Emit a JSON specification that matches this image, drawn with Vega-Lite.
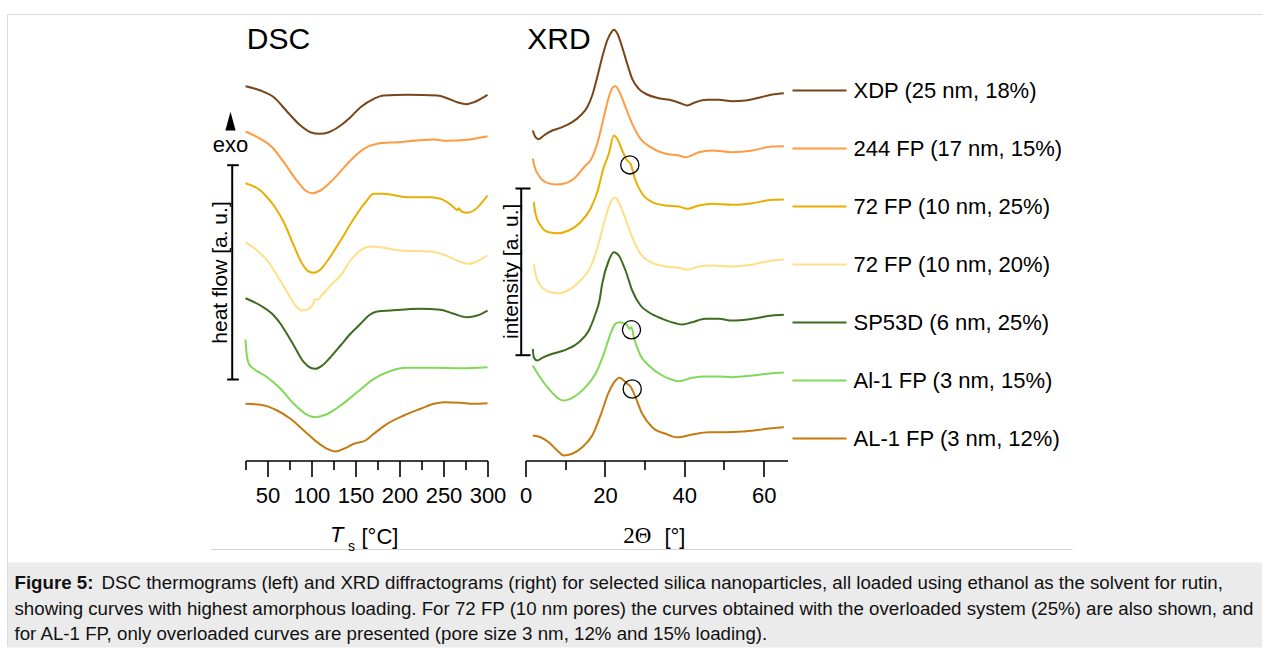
{
  "$schema": "https://vega.github.io/schema/vega-lite/v6.json",
  "background": "white",
  "padding": {"left": 6.5, "top": 13.5, "right": 0, "bottom": 0},
  "autosize": {"type": "pad"},
  "config": {
    "font": "Liberation Sans",
    "view": {"stroke": null},
    "axis": {"grid": false, "domainColor": "#000", "domainWidth": 1.6, "tickColor": "#000", "tickWidth": 1.6, "labelFont": "Liberation Sans", "labelFontSize": 22, "labelColor": "#000", "labelPadding": 9, "labelFlush": false, "labelOverlap": false},
    "text": {"font": "Liberation Sans", "color": "#000"}
  },
  "datasets": {
    "dsc": [
      {"s": "XDP (25 nm, 18%)", "T": 25, "hf": 37.43}, {"s": "XDP (25 nm, 18%)", "T": 42, "hf": 37.0}, {"s": "XDP (25 nm, 18%)", "T": 57.2, "hf": 36.33}, {"s": "XDP (25 nm, 18%)", "T": 72.4, "hf": 34.88}, {"s": "XDP (25 nm, 18%)", "T": 87.5, "hf": 33.5}, {"s": "XDP (25 nm, 18%)", "T": 98.9, "hf": 32.83}, {"s": "XDP (25 nm, 18%)", "T": 109.1, "hf": 32.67}, {"s": "XDP (25 nm, 18%)", "T": 119.7, "hf": 32.83}, {"s": "XDP (25 nm, 18%)", "T": 133, "hf": 33.5}, {"s": "XDP (25 nm, 18%)", "T": 144.3, "hf": 34.33}, {"s": "XDP (25 nm, 18%)", "T": 155.7, "hf": 35.33}, {"s": "XDP (25 nm, 18%)", "T": 170.8, "hf": 36.17}, {"s": "XDP (25 nm, 18%)", "T": 182.2, "hf": 36.5}, {"s": "XDP (25 nm, 18%)", "T": 208.8, "hf": 36.57}, {"s": "XDP (25 nm, 18%)", "T": 242.9, "hf": 36.5}, {"s": "XDP (25 nm, 18%)", "T": 254.2, "hf": 36.23}, {"s": "XDP (25 nm, 18%)", "T": 265.6, "hf": 35.83}, {"s": "XDP (25 nm, 18%)", "T": 276.1, "hf": 35.63}, {"s": "XDP (25 nm, 18%)", "T": 284.4, "hf": 35.83}, {"s": "XDP (25 nm, 18%)", "T": 300, "hf": 36.57},
      {"s": "244 FP (17 nm, 15%)", "T": 25, "hf": 32.9}, {"s": "244 FP (17 nm, 15%)", "T": 42, "hf": 32.17}, {"s": "244 FP (17 nm, 15%)", "T": 55.3, "hf": 31.33}, {"s": "244 FP (17 nm, 15%)", "T": 68.5, "hf": 29.83}, {"s": "244 FP (17 nm, 15%)", "T": 81.8, "hf": 28.17}, {"s": "244 FP (17 nm, 15%)", "T": 93.2, "hf": 27.0}, {"s": "244 FP (17 nm, 15%)", "T": 100.8, "hf": 26.73}, {"s": "244 FP (17 nm, 15%)", "T": 110.2, "hf": 27.0}, {"s": "244 FP (17 nm, 15%)", "T": 125.3, "hf": 28.17}, {"s": "244 FP (17 nm, 15%)", "T": 144.3, "hf": 30.0}, {"s": "244 FP (17 nm, 15%)", "T": 159.4, "hf": 31.17}, {"s": "244 FP (17 nm, 15%)", "T": 174.7, "hf": 31.67}, {"s": "244 FP (17 nm, 15%)", "T": 197.4, "hf": 31.83}, {"s": "244 FP (17 nm, 15%)", "T": 239, "hf": 32.1}, {"s": "244 FP (17 nm, 15%)", "T": 254.2, "hf": 31.97}, {"s": "244 FP (17 nm, 15%)", "T": 276.9, "hf": 32.07}, {"s": "244 FP (17 nm, 15%)", "T": 300, "hf": 32.43},
      {"s": "72 FP (10 nm, 25%)", "T": 25, "hf": 27.73}, {"s": "72 FP (10 nm, 25%)", "T": 42, "hf": 27.0}, {"s": "72 FP (10 nm, 25%)", "T": 47.7, "hf": 26.5}, {"s": "72 FP (10 nm, 25%)", "T": 57.2, "hf": 25.5}, {"s": "72 FP (10 nm, 25%)", "T": 68.5, "hf": 23.83}, {"s": "72 FP (10 nm, 25%)", "T": 79.9, "hf": 21.5}, {"s": "72 FP (10 nm, 25%)", "T": 89.4, "hf": 19.67}, {"s": "72 FP (10 nm, 25%)", "T": 96.9, "hf": 18.9}, {"s": "72 FP (10 nm, 25%)", "T": 102.6, "hf": 18.77}, {"s": "72 FP (10 nm, 25%)", "T": 110.2, "hf": 19.1}, {"s": "72 FP (10 nm, 25%)", "T": 119.7, "hf": 20.17}, {"s": "72 FP (10 nm, 25%)", "T": 133, "hf": 22.0}, {"s": "72 FP (10 nm, 25%)", "T": 148.1, "hf": 24.17}, {"s": "72 FP (10 nm, 25%)", "T": 161.4, "hf": 25.83}, {"s": "72 FP (10 nm, 25%)", "T": 170.8, "hf": 26.67}, {"s": "72 FP (10 nm, 25%)", "T": 182.2, "hf": 26.67}, {"s": "72 FP (10 nm, 25%)", "T": 208.8, "hf": 26.33}, {"s": "72 FP (10 nm, 25%)", "T": 235.2, "hf": 26.33}, {"s": "72 FP (10 nm, 25%)", "T": 246.6, "hf": 26.17}, {"s": "72 FP (10 nm, 25%)", "T": 261.7, "hf": 25.33}, {"s": "72 FP (10 nm, 25%)", "T": 265.6, "hf": 25.03}, {"s": "72 FP (10 nm, 25%)", "T": 267.4, "hf": 25.23}, {"s": "72 FP (10 nm, 25%)", "T": 270.5, "hf": 24.9}, {"s": "72 FP (10 nm, 25%)", "T": 277, "hf": 24.77}, {"s": "72 FP (10 nm, 25%)", "T": 284.5, "hf": 25.0}, {"s": "72 FP (10 nm, 25%)", "T": 300, "hf": 26.5},
      {"s": "72 FP (10 nm, 20%)", "T": 25, "hf": 21.83}, {"s": "72 FP (10 nm, 20%)", "T": 38.3, "hf": 21.0}, {"s": "72 FP (10 nm, 20%)", "T": 49.7, "hf": 20.0}, {"s": "72 FP (10 nm, 20%)", "T": 61, "hf": 18.5}, {"s": "72 FP (10 nm, 20%)", "T": 72.4, "hf": 16.83}, {"s": "72 FP (10 nm, 20%)", "T": 81.8, "hf": 15.5}, {"s": "72 FP (10 nm, 20%)", "T": 89.4, "hf": 15.0}, {"s": "72 FP (10 nm, 20%)", "T": 96.9, "hf": 15.17}, {"s": "72 FP (10 nm, 20%)", "T": 101.9, "hf": 15.67}, {"s": "72 FP (10 nm, 20%)", "T": 103.4, "hf": 16.1}, {"s": "72 FP (10 nm, 20%)", "T": 107.2, "hf": 16.1}, {"s": "72 FP (10 nm, 20%)", "T": 112.2, "hf": 16.57}, {"s": "72 FP (10 nm, 20%)", "T": 123.5, "hf": 17.67}, {"s": "72 FP (10 nm, 20%)", "T": 133, "hf": 18.5}, {"s": "72 FP (10 nm, 20%)", "T": 144.3, "hf": 20.0}, {"s": "72 FP (10 nm, 20%)", "T": 155.7, "hf": 21.0}, {"s": "72 FP (10 nm, 20%)", "T": 167, "hf": 21.4}, {"s": "72 FP (10 nm, 20%)", "T": 178.4, "hf": 21.33}, {"s": "72 FP (10 nm, 20%)", "T": 201.1, "hf": 21.0}, {"s": "72 FP (10 nm, 20%)", "T": 235.2, "hf": 20.9}, {"s": "72 FP (10 nm, 20%)", "T": 250.3, "hf": 20.57}, {"s": "72 FP (10 nm, 20%)", "T": 265.6, "hf": 20.0}, {"s": "72 FP (10 nm, 20%)", "T": 278.8, "hf": 19.67}, {"s": "72 FP (10 nm, 20%)", "T": 290.2, "hf": 20.0}, {"s": "72 FP (10 nm, 20%)", "T": 300, "hf": 20.5},
      {"s": "SP53D (6 nm, 25%)", "T": 25, "hf": 16.23}, {"s": "SP53D (6 nm, 25%)", "T": 42, "hf": 15.5}, {"s": "SP53D (6 nm, 25%)", "T": 57.2, "hf": 14.5}, {"s": "SP53D (6 nm, 25%)", "T": 64.8, "hf": 13.67}, {"s": "SP53D (6 nm, 25%)", "T": 68.5, "hf": 13.17}, {"s": "SP53D (6 nm, 25%)", "T": 79.9, "hf": 11.5}, {"s": "SP53D (6 nm, 25%)", "T": 91.3, "hf": 9.83}, {"s": "SP53D (6 nm, 25%)", "T": 98.9, "hf": 9.27}, {"s": "SP53D (6 nm, 25%)", "T": 104.5, "hf": 9.17}, {"s": "SP53D (6 nm, 25%)", "T": 112.2, "hf": 9.5}, {"s": "SP53D (6 nm, 25%)", "T": 121.6, "hf": 10.33}, {"s": "SP53D (6 nm, 25%)", "T": 133, "hf": 11.5}, {"s": "SP53D (6 nm, 25%)", "T": 144.3, "hf": 12.67}, {"s": "SP53D (6 nm, 25%)", "T": 155.7, "hf": 13.67}, {"s": "SP53D (6 nm, 25%)", "T": 165.1, "hf": 14.5}, {"s": "SP53D (6 nm, 25%)", "T": 174.7, "hf": 14.9}, {"s": "SP53D (6 nm, 25%)", "T": 189.8, "hf": 15.0}, {"s": "SP53D (6 nm, 25%)", "T": 223.9, "hf": 15.17}, {"s": "SP53D (6 nm, 25%)", "T": 246.6, "hf": 15.07}, {"s": "SP53D (6 nm, 25%)", "T": 261.7, "hf": 14.67}, {"s": "SP53D (6 nm, 25%)", "T": 276.9, "hf": 14.33}, {"s": "SP53D (6 nm, 25%)", "T": 288.3, "hf": 14.5}, {"s": "SP53D (6 nm, 25%)", "T": 300, "hf": 15.0},
      {"s": "Al-1 FP (3 nm, 15%)", "T": 25, "hf": 12.1}, {"s": "Al-1 FP (3 nm, 15%)", "T": 26.1, "hf": 10.83}, {"s": "Al-1 FP (3 nm, 15%)", "T": 28.8, "hf": 9.67}, {"s": "Al-1 FP (3 nm, 15%)", "T": 34.4, "hf": 9.17}, {"s": "Al-1 FP (3 nm, 15%)", "T": 49.7, "hf": 8.33}, {"s": "Al-1 FP (3 nm, 15%)", "T": 64.8, "hf": 7.17}, {"s": "Al-1 FP (3 nm, 15%)", "T": 79.9, "hf": 5.67}, {"s": "Al-1 FP (3 nm, 15%)", "T": 93.2, "hf": 4.67}, {"s": "Al-1 FP (3 nm, 15%)", "T": 104.5, "hf": 4.33}, {"s": "Al-1 FP (3 nm, 15%)", "T": 115.9, "hf": 4.57}, {"s": "Al-1 FP (3 nm, 15%)", "T": 133, "hf": 5.5}, {"s": "Al-1 FP (3 nm, 15%)", "T": 151.9, "hf": 6.83}, {"s": "Al-1 FP (3 nm, 15%)", "T": 170.8, "hf": 8.17}, {"s": "Al-1 FP (3 nm, 15%)", "T": 186, "hf": 8.83}, {"s": "Al-1 FP (3 nm, 15%)", "T": 208.8, "hf": 9.27}, {"s": "Al-1 FP (3 nm, 15%)", "T": 239, "hf": 9.27}, {"s": "Al-1 FP (3 nm, 15%)", "T": 269.3, "hf": 9.23}, {"s": "Al-1 FP (3 nm, 15%)", "T": 300, "hf": 9.33},
      {"s": "AL-1 FP (3 nm, 12%)", "T": 25, "hf": 5.67}, {"s": "AL-1 FP (3 nm, 12%)", "T": 42, "hf": 5.57}, {"s": "AL-1 FP (3 nm, 12%)", "T": 61, "hf": 5.0}, {"s": "AL-1 FP (3 nm, 12%)", "T": 76.1, "hf": 4.17}, {"s": "AL-1 FP (3 nm, 12%)", "T": 91.3, "hf": 3.0}, {"s": "AL-1 FP (3 nm, 12%)", "T": 106.5, "hf": 1.83}, {"s": "AL-1 FP (3 nm, 12%)", "T": 117.8, "hf": 1.17}, {"s": "AL-1 FP (3 nm, 12%)", "T": 127.3, "hf": 0.9}, {"s": "AL-1 FP (3 nm, 12%)", "T": 136.7, "hf": 1.17}, {"s": "AL-1 FP (3 nm, 12%)", "T": 148.1, "hf": 1.67}, {"s": "AL-1 FP (3 nm, 12%)", "T": 161.4, "hf": 2.0}, {"s": "AL-1 FP (3 nm, 12%)", "T": 170.8, "hf": 2.67}, {"s": "AL-1 FP (3 nm, 12%)", "T": 186, "hf": 3.67}, {"s": "AL-1 FP (3 nm, 12%)", "T": 204.9, "hf": 4.5}, {"s": "AL-1 FP (3 nm, 12%)", "T": 223.9, "hf": 5.17}, {"s": "AL-1 FP (3 nm, 12%)", "T": 239, "hf": 5.67}, {"s": "AL-1 FP (3 nm, 12%)", "T": 250.3, "hf": 5.83}, {"s": "AL-1 FP (3 nm, 12%)", "T": 269.3, "hf": 5.77}, {"s": "AL-1 FP (3 nm, 12%)", "T": 284.4, "hf": 5.67}, {"s": "AL-1 FP (3 nm, 12%)", "T": 300, "hf": 5.73}
    ],
    "xrd": [
      {"s": "XDP (25 nm, 18%)", "tt": 1.84, "I": 33.0}, {"s": "XDP (25 nm, 18%)", "tt": 2.52, "I": 32.33}, {"s": "XDP (25 nm, 18%)", "tt": 3.35, "I": 32.13}, {"s": "XDP (25 nm, 18%)", "tt": 4.61, "I": 32.5}, {"s": "XDP (25 nm, 18%)", "tt": 6.73, "I": 33.0}, {"s": "XDP (25 nm, 18%)", "tt": 9.25, "I": 33.33}, {"s": "XDP (25 nm, 18%)", "tt": 11.76, "I": 33.83}, {"s": "XDP (25 nm, 18%)", "tt": 13.85, "I": 34.5}, {"s": "XDP (25 nm, 18%)", "tt": 15.54, "I": 35.33}, {"s": "XDP (25 nm, 18%)", "tt": 16.8, "I": 36.5}, {"s": "XDP (25 nm, 18%)", "tt": 18.06, "I": 38.33}, {"s": "XDP (25 nm, 18%)", "tt": 19.32, "I": 40.33}, {"s": "XDP (25 nm, 18%)", "tt": 20.58, "I": 42.0}, {"s": "XDP (25 nm, 18%)", "tt": 21.66, "I": 42.83}, {"s": "XDP (25 nm, 18%)", "tt": 22.24, "I": 43.07}, {"s": "XDP (25 nm, 18%)", "tt": 23.1, "I": 42.73}, {"s": "XDP (25 nm, 18%)", "tt": 24.36, "I": 41.33}, {"s": "XDP (25 nm, 18%)", "tt": 25.62, "I": 39.67}, {"s": "XDP (25 nm, 18%)", "tt": 26.88, "I": 38.17}, {"s": "XDP (25 nm, 18%)", "tt": 28.54, "I": 37.17}, {"s": "XDP (25 nm, 18%)", "tt": 30.66, "I": 36.6}, {"s": "XDP (25 nm, 18%)", "tt": 33.58, "I": 36.23}, {"s": "XDP (25 nm, 18%)", "tt": 36.95, "I": 36.0}, {"s": "XDP (25 nm, 18%)", "tt": 39.05, "I": 35.73}, {"s": "XDP (25 nm, 18%)", "tt": 40.73, "I": 35.5}, {"s": "XDP (25 nm, 18%)", "tt": 42.82, "I": 35.83}, {"s": "XDP (25 nm, 18%)", "tt": 45.77, "I": 36.07}, {"s": "XDP (25 nm, 18%)", "tt": 48.69, "I": 36.07}, {"s": "XDP (25 nm, 18%)", "tt": 52.07, "I": 35.93}, {"s": "XDP (25 nm, 18%)", "tt": 55.42, "I": 36.0}, {"s": "XDP (25 nm, 18%)", "tt": 58.77, "I": 36.27}, {"s": "XDP (25 nm, 18%)", "tt": 62.15, "I": 36.6}, {"s": "XDP (25 nm, 18%)", "tt": 65.07, "I": 36.73},
      {"s": "244 FP (17 nm, 15%)", "tt": 1.84, "I": 30.2}, {"s": "244 FP (17 nm, 15%)", "tt": 2.27, "I": 29.4}, {"s": "244 FP (17 nm, 15%)", "tt": 3.35, "I": 28.5}, {"s": "244 FP (17 nm, 15%)", "tt": 5.04, "I": 27.83}, {"s": "244 FP (17 nm, 15%)", "tt": 7.56, "I": 27.6}, {"s": "244 FP (17 nm, 15%)", "tt": 10.08, "I": 27.73}, {"s": "244 FP (17 nm, 15%)", "tt": 12.6, "I": 28.33}, {"s": "244 FP (17 nm, 15%)", "tt": 15.11, "I": 29.5}, {"s": "244 FP (17 nm, 15%)", "tt": 16.37, "I": 30.0}, {"s": "244 FP (17 nm, 15%)", "tt": 18.06, "I": 31.67}, {"s": "244 FP (17 nm, 15%)", "tt": 19.72, "I": 34.33}, {"s": "244 FP (17 nm, 15%)", "tt": 20.98, "I": 36.33}, {"s": "244 FP (17 nm, 15%)", "tt": 21.99, "I": 37.33}, {"s": "244 FP (17 nm, 15%)", "tt": 22.67, "I": 37.43}, {"s": "244 FP (17 nm, 15%)", "tt": 23.5, "I": 37.0}, {"s": "244 FP (17 nm, 15%)", "tt": 25.19, "I": 35.33}, {"s": "244 FP (17 nm, 15%)", "tt": 26.88, "I": 33.67}, {"s": "244 FP (17 nm, 15%)", "tt": 28.97, "I": 32.17}, {"s": "244 FP (17 nm, 15%)", "tt": 31.49, "I": 31.33}, {"s": "244 FP (17 nm, 15%)", "tt": 35.27, "I": 30.67}, {"s": "244 FP (17 nm, 15%)", "tt": 38.62, "I": 30.5}, {"s": "244 FP (17 nm, 15%)", "tt": 40.31, "I": 30.33}, {"s": "244 FP (17 nm, 15%)", "tt": 43.66, "I": 30.83}, {"s": "244 FP (17 nm, 15%)", "tt": 47.03, "I": 31.0}, {"s": "244 FP (17 nm, 15%)", "tt": 52.07, "I": 30.83}, {"s": "244 FP (17 nm, 15%)", "tt": 57.11, "I": 31.0}, {"s": "244 FP (17 nm, 15%)", "tt": 62.15, "I": 31.4}, {"s": "244 FP (17 nm, 15%)", "tt": 65.07, "I": 31.43},
      {"s": "72 FP (10 nm, 25%)", "tt": 2.09, "I": 25.83}, {"s": "72 FP (10 nm, 25%)", "tt": 2.52, "I": 24.67}, {"s": "72 FP (10 nm, 25%)", "tt": 3.78, "I": 23.5}, {"s": "72 FP (10 nm, 25%)", "tt": 5.87, "I": 22.83}, {"s": "72 FP (10 nm, 25%)", "tt": 7.99, "I": 22.73}, {"s": "72 FP (10 nm, 25%)", "tt": 10.91, "I": 23.0}, {"s": "72 FP (10 nm, 25%)", "tt": 13.85, "I": 23.83}, {"s": "72 FP (10 nm, 25%)", "tt": 16.37, "I": 25.17}, {"s": "72 FP (10 nm, 25%)", "tt": 18.06, "I": 26.83}, {"s": "72 FP (10 nm, 25%)", "tt": 19.72, "I": 29.33}, {"s": "72 FP (10 nm, 25%)", "tt": 20.98, "I": 30.67}, {"s": "72 FP (10 nm, 25%)", "tt": 22.24, "I": 32.5}, {"s": "72 FP (10 nm, 25%)", "tt": 23.1, "I": 32.17}, {"s": "72 FP (10 nm, 25%)", "tt": 24.36, "I": 31.0}, {"s": "72 FP (10 nm, 25%)", "tt": 25.62, "I": 30.0}, {"s": "72 FP (10 nm, 25%)", "tt": 26.45, "I": 29.67}, {"s": "72 FP (10 nm, 25%)", "tt": 27.71, "I": 28.0}, {"s": "72 FP (10 nm, 25%)", "tt": 29.4, "I": 26.67}, {"s": "72 FP (10 nm, 25%)", "tt": 31.92, "I": 25.83}, {"s": "72 FP (10 nm, 25%)", "tt": 35.27, "I": 25.5}, {"s": "72 FP (10 nm, 25%)", "tt": 38.62, "I": 25.4}, {"s": "72 FP (10 nm, 25%)", "tt": 40.73, "I": 25.17}, {"s": "72 FP (10 nm, 25%)", "tt": 43.66, "I": 25.5}, {"s": "72 FP (10 nm, 25%)", "tt": 47.03, "I": 25.67}, {"s": "72 FP (10 nm, 25%)", "tt": 52.07, "I": 25.57}, {"s": "72 FP (10 nm, 25%)", "tt": 57.11, "I": 25.73}, {"s": "72 FP (10 nm, 25%)", "tt": 62.15, "I": 26.07}, {"s": "72 FP (10 nm, 25%)", "tt": 65.07, "I": 26.1},
      {"s": "72 FP (10 nm, 20%)", "tt": 2.09, "I": 19.67}, {"s": "72 FP (10 nm, 20%)", "tt": 2.52, "I": 18.67}, {"s": "72 FP (10 nm, 20%)", "tt": 3.78, "I": 17.5}, {"s": "72 FP (10 nm, 20%)", "tt": 6.3, "I": 16.83}, {"s": "72 FP (10 nm, 20%)", "tt": 8.39, "I": 16.73}, {"s": "72 FP (10 nm, 20%)", "tt": 11.34, "I": 17.17}, {"s": "72 FP (10 nm, 20%)", "tt": 13.85, "I": 18.0}, {"s": "72 FP (10 nm, 20%)", "tt": 16.37, "I": 19.33}, {"s": "72 FP (10 nm, 20%)", "tt": 18.06, "I": 21.17}, {"s": "72 FP (10 nm, 20%)", "tt": 19.72, "I": 23.67}, {"s": "72 FP (10 nm, 20%)", "tt": 20.98, "I": 25.33}, {"s": "72 FP (10 nm, 20%)", "tt": 21.99, "I": 26.17}, {"s": "72 FP (10 nm, 20%)", "tt": 22.67, "I": 26.27}, {"s": "72 FP (10 nm, 20%)", "tt": 23.5, "I": 25.83}, {"s": "72 FP (10 nm, 20%)", "tt": 25.19, "I": 24.17}, {"s": "72 FP (10 nm, 20%)", "tt": 26.88, "I": 22.33}, {"s": "72 FP (10 nm, 20%)", "tt": 28.97, "I": 20.67}, {"s": "72 FP (10 nm, 20%)", "tt": 31.49, "I": 19.83}, {"s": "72 FP (10 nm, 20%)", "tt": 35.27, "I": 19.4}, {"s": "72 FP (10 nm, 20%)", "tt": 38.62, "I": 19.27}, {"s": "72 FP (10 nm, 20%)", "tt": 40.73, "I": 19.07}, {"s": "72 FP (10 nm, 20%)", "tt": 43.66, "I": 19.4}, {"s": "72 FP (10 nm, 20%)", "tt": 47.03, "I": 19.5}, {"s": "72 FP (10 nm, 20%)", "tt": 52.07, "I": 19.4}, {"s": "72 FP (10 nm, 20%)", "tt": 57.11, "I": 19.6}, {"s": "72 FP (10 nm, 20%)", "tt": 62.15, "I": 20.0}, {"s": "72 FP (10 nm, 20%)", "tt": 65.07, "I": 20.1},
      {"s": "SP53D (6 nm, 25%)", "tt": 1.84, "I": 11.17}, {"s": "SP53D (6 nm, 25%)", "tt": 2.09, "I": 10.33}, {"s": "SP53D (6 nm, 25%)", "tt": 2.95, "I": 10.0}, {"s": "SP53D (6 nm, 25%)", "tt": 4.21, "I": 10.27}, {"s": "SP53D (6 nm, 25%)", "tt": 6.73, "I": 10.67}, {"s": "SP53D (6 nm, 25%)", "tt": 10.08, "I": 11.07}, {"s": "SP53D (6 nm, 25%)", "tt": 13.43, "I": 11.83}, {"s": "SP53D (6 nm, 25%)", "tt": 15.95, "I": 13.0}, {"s": "SP53D (6 nm, 25%)", "tt": 17.63, "I": 14.67}, {"s": "SP53D (6 nm, 25%)", "tt": 18.64, "I": 16.0}, {"s": "SP53D (6 nm, 25%)", "tt": 19.32, "I": 17.67}, {"s": "SP53D (6 nm, 25%)", "tt": 20.98, "I": 20.0}, {"s": "SP53D (6 nm, 25%)", "tt": 22.24, "I": 20.83}, {"s": "SP53D (6 nm, 25%)", "tt": 23.5, "I": 20.5}, {"s": "SP53D (6 nm, 25%)", "tt": 25.19, "I": 19.0}, {"s": "SP53D (6 nm, 25%)", "tt": 26.88, "I": 17.0}, {"s": "SP53D (6 nm, 25%)", "tt": 28.97, "I": 15.5}, {"s": "SP53D (6 nm, 25%)", "tt": 31.06, "I": 14.83}, {"s": "SP53D (6 nm, 25%)", "tt": 34.44, "I": 14.17}, {"s": "SP53D (6 nm, 25%)", "tt": 37.79, "I": 13.73}, {"s": "SP53D (6 nm, 25%)", "tt": 39.47, "I": 13.6}, {"s": "SP53D (6 nm, 25%)", "tt": 41.99, "I": 13.83}, {"s": "SP53D (6 nm, 25%)", "tt": 45.34, "I": 14.17}, {"s": "SP53D (6 nm, 25%)", "tt": 48.69, "I": 14.17}, {"s": "SP53D (6 nm, 25%)", "tt": 52.07, "I": 14.0}, {"s": "SP53D (6 nm, 25%)", "tt": 57.11, "I": 14.17}, {"s": "SP53D (6 nm, 25%)", "tt": 62.15, "I": 14.5}, {"s": "SP53D (6 nm, 25%)", "tt": 65.07, "I": 14.57},
      {"s": "Al-1 FP (3 nm, 15%)", "tt": 1.84, "I": 9.5}, {"s": "Al-1 FP (3 nm, 15%)", "tt": 3.35, "I": 8.5}, {"s": "Al-1 FP (3 nm, 15%)", "tt": 5.87, "I": 7.17}, {"s": "Al-1 FP (3 nm, 15%)", "tt": 8.39, "I": 6.17}, {"s": "Al-1 FP (3 nm, 15%)", "tt": 9.65, "I": 6.0}, {"s": "Al-1 FP (3 nm, 15%)", "tt": 11.76, "I": 6.27}, {"s": "Al-1 FP (3 nm, 15%)", "tt": 15.11, "I": 7.33}, {"s": "Al-1 FP (3 nm, 15%)", "tt": 17.63, "I": 8.67}, {"s": "Al-1 FP (3 nm, 15%)", "tt": 19.72, "I": 10.67}, {"s": "Al-1 FP (3 nm, 15%)", "tt": 21.41, "I": 12.67}, {"s": "Al-1 FP (3 nm, 15%)", "tt": 22.5, "I": 13.6}, {"s": "Al-1 FP (3 nm, 15%)", "tt": 23.5, "I": 13.83}, {"s": "Al-1 FP (3 nm, 15%)", "tt": 24.76, "I": 13.73}, {"s": "Al-1 FP (3 nm, 15%)", "tt": 25.62, "I": 13.5}, {"s": "Al-1 FP (3 nm, 15%)", "tt": 26.2, "I": 13.17}, {"s": "Al-1 FP (3 nm, 15%)", "tt": 26.7, "I": 13.33}, {"s": "Al-1 FP (3 nm, 15%)", "tt": 27.28, "I": 12.33}, {"s": "Al-1 FP (3 nm, 15%)", "tt": 28.97, "I": 10.5}, {"s": "Al-1 FP (3 nm, 15%)", "tt": 31.06, "I": 9.5}, {"s": "Al-1 FP (3 nm, 15%)", "tt": 34.44, "I": 8.5}, {"s": "Al-1 FP (3 nm, 15%)", "tt": 36.95, "I": 8.07}, {"s": "Al-1 FP (3 nm, 15%)", "tt": 38.62, "I": 7.93}, {"s": "Al-1 FP (3 nm, 15%)", "tt": 41.99, "I": 8.27}, {"s": "Al-1 FP (3 nm, 15%)", "tt": 45.34, "I": 8.4}, {"s": "Al-1 FP (3 nm, 15%)", "tt": 48.69, "I": 8.4}, {"s": "Al-1 FP (3 nm, 15%)", "tt": 52.07, "I": 8.33}, {"s": "Al-1 FP (3 nm, 15%)", "tt": 57.11, "I": 8.5}, {"s": "Al-1 FP (3 nm, 15%)", "tt": 62.15, "I": 8.73}, {"s": "Al-1 FP (3 nm, 15%)", "tt": 65.07, "I": 8.8},
      {"s": "AL-1 FP (3 nm, 12%)", "tt": 1.84, "I": 2.5}, {"s": "AL-1 FP (3 nm, 12%)", "tt": 3.78, "I": 2.33}, {"s": "AL-1 FP (3 nm, 12%)", "tt": 5.87, "I": 1.83}, {"s": "AL-1 FP (3 nm, 12%)", "tt": 7.99, "I": 1.0}, {"s": "AL-1 FP (3 nm, 12%)", "tt": 9.65, "I": 0.5}, {"s": "AL-1 FP (3 nm, 12%)", "tt": 11.76, "I": 0.67}, {"s": "AL-1 FP (3 nm, 12%)", "tt": 14.28, "I": 1.33}, {"s": "AL-1 FP (3 nm, 12%)", "tt": 16.8, "I": 2.5}, {"s": "AL-1 FP (3 nm, 12%)", "tt": 18.89, "I": 4.5}, {"s": "AL-1 FP (3 nm, 12%)", "tt": 20.98, "I": 6.83}, {"s": "AL-1 FP (3 nm, 12%)", "tt": 22.67, "I": 8.0}, {"s": "AL-1 FP (3 nm, 12%)", "tt": 23.68, "I": 8.27}, {"s": "AL-1 FP (3 nm, 12%)", "tt": 24.76, "I": 8.0}, {"s": "AL-1 FP (3 nm, 12%)", "tt": 25.62, "I": 7.67}, {"s": "AL-1 FP (3 nm, 12%)", "tt": 26.45, "I": 7.4}, {"s": "AL-1 FP (3 nm, 12%)", "tt": 27.71, "I": 6.33}, {"s": "AL-1 FP (3 nm, 12%)", "tt": 29.4, "I": 4.67}, {"s": "AL-1 FP (3 nm, 12%)", "tt": 31.92, "I": 3.33}, {"s": "AL-1 FP (3 nm, 12%)", "tt": 35.27, "I": 2.67}, {"s": "AL-1 FP (3 nm, 12%)", "tt": 38.21, "I": 2.33}, {"s": "AL-1 FP (3 nm, 12%)", "tt": 41.99, "I": 2.6}, {"s": "AL-1 FP (3 nm, 12%)", "tt": 46.17, "I": 2.83}, {"s": "AL-1 FP (3 nm, 12%)", "tt": 50.38, "I": 2.83}, {"s": "AL-1 FP (3 nm, 12%)", "tt": 54.59, "I": 2.9}, {"s": "AL-1 FP (3 nm, 12%)", "tt": 58.77, "I": 3.07}, {"s": "AL-1 FP (3 nm, 12%)", "tt": 62.15, "I": 3.23}, {"s": "AL-1 FP (3 nm, 12%)", "tt": 65.07, "I": 3.33}
    ],
    "circles": [
      {"tt": 26.28, "I": 29.56}, {"tt": 26.7, "I": 13.07}, {"tt": 26.88, "I": 7.15}
    ]
  },
  "spacing": 38,
  "bounds": "flush",
  "hconcat": [
    {
      "width": 242,
      "height": 400,
      "resolve": {"axis": {"x": "independent"}},
      "layer": [
        {
          "data": {"values": [{}]},
          "mark": {"type": "rect", "color": "#ebebeb"},
          "encoding": {
            "x": {"datum": -245.45, "type": "quantitative", "scale": {"domain": [25, 300], "nice": false, "zero": false}, "axis": null},
            "x2": {"datum": 1180.4},
            "y": {"datum": -10.2, "type": "quantitative", "scale": {"domain": [0, 40], "nice": false, "zero": false}, "axis": null},
            "y2": {"datum": -18.7}
          }
        },
        {
          "data": {"values": [{}]},
          "mark": {"type": "rule", "color": "#dcdcdc", "strokeWidth": 1},
          "encoding": {
            "x": {"datum": -245.45, "type": "quantitative", "scale": {"domain": [25, 300], "nice": false, "zero": false}, "axis": null},
            "x2": {"datum": 1180},
            "y": {"datum": 44.6, "type": "quantitative", "scale": {"domain": [0, 40], "nice": false, "zero": false}, "axis": null}
          }
        },
        {
          "data": {"values": [{}]},
          "mark": {"type": "rule", "color": "#dcdcdc", "strokeWidth": 1},
          "encoding": {
            "x": {"datum": -245.45, "type": "quantitative", "scale": {"domain": [25, 300], "nice": false, "zero": false}, "axis": null},
            "y": {"datum": 44.6, "type": "quantitative", "scale": {"domain": [0, 40], "nice": false, "zero": false}, "axis": null},
            "y2": {"datum": -18.6}
          }
        },
        {
          "data": {"values": [{}]},
          "mark": {"type": "rule", "color": "#d4d4d4", "strokeWidth": 1},
          "encoding": {
            "x": {"datum": -14.8, "type": "quantitative", "scale": {"domain": [25, 300], "nice": false, "zero": false}, "axis": null},
            "x2": {"datum": 964.8},
            "y": {"datum": -8.9, "type": "quantitative", "scale": {"domain": [0, 40], "nice": false, "zero": false}, "axis": null}
          }
        },
        {
          "data": {"name": "dsc"},
          "mark": {"type": "line", "strokeWidth": 2, "interpolate": "monotone"},
          "encoding": {
            "x": {
              "field": "T", "type": "quantitative",
              "scale": {"domain": [25, 300], "nice": false, "zero": false},
              "axis": {"orient": "bottom", "title": null, "values": [50, 100, 150, 200, 250, 300], "tickSize": 16}
            },
            "y": {"field": "hf", "type": "quantitative", "scale": {"domain": [0, 40], "nice": false, "zero": false}, "axis": null},
            "color": {
              "field": "s", "type": "nominal",
              "scale": {
                "domain": ["XDP (25 nm, 18%)", "244 FP (17 nm, 15%)", "72 FP (10 nm, 25%)", "72 FP (10 nm, 20%)", "SP53D (6 nm, 25%)", "Al-1 FP (3 nm, 15%)", "AL-1 FP (3 nm, 12%)"],
                "range": ["#774517", "#ff9b42", "#e8ae00", "#ffdf85", "#3e6b1f", "#82d858", "#c47b12"]
              },
              "legend": {"orient": "none", "legendX": 546, "legendY": 2, "direction": "vertical", "title": null, "symbolType": "stroke", "symbolSize": 2916, "symbolStrokeWidth": 2, "labelFont": "Liberation Sans", "labelFontSize": 22, "labelColor": "#000", "labelLimit": 400, "rowPadding": 19, "labelOffset": 6, "padding": 0}
            }
          }
        },
        {
          "data": {"values": [{}]},
          "mark": {"type": "rule", "color": "#000", "strokeWidth": 2},
          "encoding": {
            "x": {"datum": 9.9, "type": "quantitative", "scale": {"domain": [25, 300], "nice": false, "zero": false},
                  "axis": {"orient": "bottom", "title": null, "values": [25, 75, 125, 175, 225, 275], "tickSize": 9, "labels": false, "domain": false}},
            "y": {"datum": 29.53, "type": "quantitative", "scale": {"domain": [0, 40], "nice": false, "zero": false}, "axis": null},
            "y2": {"datum": 8.1}
          }
        },
        {
          "data": {"values": [{}]},
          "mark": {"type": "rule", "color": "#000", "strokeWidth": 2},
          "encoding": {
            "x": {"datum": 4.2, "type": "quantitative", "scale": {"domain": [25, 300], "nice": false, "zero": false}, "axis": null},
            "x2": {"datum": 17.4},
            "y": {"datum": 29.53, "type": "quantitative", "scale": {"domain": [0, 40], "nice": false, "zero": false}, "axis": null}
          }
        },
        {
          "data": {"values": [{}]},
          "mark": {"type": "rule", "color": "#000", "strokeWidth": 2},
          "encoding": {
            "x": {"datum": 4.2, "type": "quantitative", "scale": {"domain": [25, 300], "nice": false, "zero": false}, "axis": null},
            "x2": {"datum": 17.4},
            "y": {"datum": 8.1, "type": "quantitative", "scale": {"domain": [0, 40], "nice": false, "zero": false}, "axis": null}
          }
        },
        {
          "data": {"values": [{}]},
          "mark": {"type": "text", "text": "heat flow [a. u.]", "angle": 270, "fontSize": 21, "align": "center", "baseline": "middle", "font": "Liberation Sans", "color": "#000"},
          "encoding": {
            "x": {"datum": -2.6, "type": "quantitative", "scale": {"domain": [25, 300], "nice": false, "zero": false}, "axis": null},
            "y": {"datum": 18.8, "type": "quantitative", "scale": {"domain": [0, 40], "nice": false, "zero": false}, "axis": null}
          }
        },
        {
          "data": {"values": [{}]},
          "mark": {"type": "point", "shape": "M-0.55,1L0,-1L0.55,1Z", "size": 346, "filled": true, "color": "#000", "opacity": 1},
          "encoding": {
            "x": {"datum": 7.95, "type": "quantitative", "scale": {"domain": [25, 300], "nice": false, "zero": false}, "axis": null},
            "y": {"datum": 33.94, "type": "quantitative", "scale": {"domain": [0, 40], "nice": false, "zero": false}, "axis": null}
          }
        },
        {
          "data": {"values": [{}]},
          "mark": {"type": "text", "text": "exo", "fontSize": 22, "align": "center", "baseline": "middle", "font": "Liberation Sans", "color": "#000"},
          "encoding": {
            "x": {"datum": 7.95, "type": "quantitative", "scale": {"domain": [25, 300], "nice": false, "zero": false}, "axis": null},
            "y": {"datum": 31.6, "type": "quantitative", "scale": {"domain": [0, 40], "nice": false, "zero": false}, "axis": null}
          }
        },
        {
          "data": {"values": [{}]},
          "mark": {"type": "text", "text": "DSC", "fontSize": 30, "align": "left", "baseline": "alphabetic", "font": "Liberation Sans", "color": "#000"},
          "encoding": {
            "x": {"datum": 26.5, "type": "quantitative", "scale": {"domain": [25, 300], "nice": false, "zero": false}, "axis": null},
            "y": {"datum": 41.13, "type": "quantitative", "scale": {"domain": [0, 40], "nice": false, "zero": false}, "axis": null}
          }
        },
        {
          "data": {"values": [{}]},
          "mark": {"type": "text", "text": "T", "fontSize": 22, "fontStyle": "italic", "align": "left", "baseline": "middle", "font": "Liberation Sans", "color": "#000"},
          "encoding": {
            "x": {"datum": 121, "type": "quantitative", "scale": {"domain": [25, 300], "nice": false, "zero": false}, "axis": null},
            "y": {"datum": -7.43, "type": "quantitative", "scale": {"domain": [0, 40], "nice": false, "zero": false}, "axis": null}
          }
        },
        {
          "data": {"values": [{}]},
          "mark": {"type": "text", "text": "s", "fontSize": 14, "align": "left", "baseline": "middle", "font": "Liberation Sans", "color": "#000"},
          "encoding": {
            "x": {"datum": 141.5, "type": "quantitative", "scale": {"domain": [25, 300], "nice": false, "zero": false}, "axis": null},
            "y": {"datum": -8.67, "type": "quantitative", "scale": {"domain": [0, 40], "nice": false, "zero": false}, "axis": null}
          }
        },
        {
          "data": {"values": [{}]},
          "mark": {"type": "text", "text": "[°C]", "fontSize": 22, "align": "left", "baseline": "middle", "font": "Liberation Sans", "color": "#000"},
          "encoding": {
            "x": {"datum": 156.8, "type": "quantitative", "scale": {"domain": [25, 300], "nice": false, "zero": false}, "axis": null},
            "y": {"datum": -7.6, "type": "quantitative", "scale": {"domain": [0, 40], "nice": false, "zero": false}, "axis": null}
          }
        },
        {
          "data": {"values": [{}]},
          "mark": {"type": "text", "text": "Figure 5:", "fontWeight": "bold", "fontSize": 18.7, "align": "left", "baseline": "middle", "font": "Liberation Sans", "color": "#111"},
          "encoding": {
            "x": {"datum": -237.5, "type": "quantitative", "scale": {"domain": [25, 300], "nice": false, "zero": false}, "axis": null},
            "y": {"datum": -12.2, "type": "quantitative", "scale": {"domain": [0, 40], "nice": false, "zero": false}, "axis": null}
          }
        },
        {
          "data": {"values": [{}]},
          "mark": {"type": "text", "text": "DSC thermograms (left) and XRD diffractograms (right) for selected silica nanoparticles, all loaded using ethanol as the solvent for rutin,", "fontSize": 18.7, "align": "left", "baseline": "middle", "font": "Liberation Sans", "color": "#111"},
          "encoding": {
            "x": {"datum": -138.6, "type": "quantitative", "scale": {"domain": [25, 300], "nice": false, "zero": false}, "axis": null},
            "y": {"datum": -12.2, "type": "quantitative", "scale": {"domain": [0, 40], "nice": false, "zero": false}, "axis": null}
          }
        },
        {
          "data": {"values": [{}]},
          "mark": {"type": "text", "text": "showing curves with highest amorphous loading. For 72 FP (10 nm pores) the curves obtained with the overloaded system (25%) are also shown, and", "fontSize": 18.7, "align": "left", "baseline": "middle", "font": "Liberation Sans", "color": "#111"},
          "encoding": {
            "x": {"datum": -237.5, "type": "quantitative", "scale": {"domain": [25, 300], "nice": false, "zero": false}, "axis": null},
            "y": {"datum": -14.8, "type": "quantitative", "scale": {"domain": [0, 40], "nice": false, "zero": false}, "axis": null}
          }
        },
        {
          "data": {"values": [{}]},
          "mark": {"type": "text", "text": "for AL-1 FP, only overloaded curves are presented (pore size 3 nm, 12% and 15% loading).", "fontSize": 18.7, "align": "left", "baseline": "middle", "font": "Liberation Sans", "color": "#111"},
          "encoding": {
            "x": {"datum": -237.5, "type": "quantitative", "scale": {"domain": [25, 300], "nice": false, "zero": false}, "axis": null},
            "y": {"datum": -17.3, "type": "quantitative", "scale": {"domain": [0, 40], "nice": false, "zero": false}, "axis": null}
          }
        }
      ]
    },
    {
      "width": 262,
      "height": 400,
      "layer": [
        {
          "data": {"name": "xrd"},
          "mark": {"type": "line", "strokeWidth": 2, "interpolate": "monotone"},
          "encoding": {
            "x": {
              "field": "tt", "type": "quantitative",
              "scale": {"domain": [0, 66], "nice": false, "zero": false},
              "axis": {
                "title": null,
                "values": [0, 5, 10, 15, 20, 25, 30, 35, 40, 45, 50, 55, 60, 65],
                "labelExpr": "datum.value % 20 === 0 ? datum.label : ''",
                "tickSize": {"condition": {"test": "datum.value % 20 === 0", "value": 16}, "value": 9}
              }
            },
            "y": {"field": "I", "type": "quantitative", "scale": {"domain": [0, 40], "nice": false, "zero": false}, "axis": null},
            "color": {
              "field": "s", "type": "nominal",
              "scale": {
                "domain": ["XDP (25 nm, 18%)", "244 FP (17 nm, 15%)", "72 FP (10 nm, 25%)", "72 FP (10 nm, 20%)", "SP53D (6 nm, 25%)", "Al-1 FP (3 nm, 15%)", "AL-1 FP (3 nm, 12%)"],
                "range": ["#774517", "#ff9b42", "#e8ae00", "#ffdf85", "#3e6b1f", "#82d858", "#c47b12"]
              },
              "legend": {"orient": "none", "legendX": 546, "legendY": 2, "direction": "vertical", "title": null, "symbolType": "stroke", "symbolSize": 2916, "symbolStrokeWidth": 2, "labelFont": "Liberation Sans", "labelFontSize": 22, "labelColor": "#000", "labelLimit": 400, "rowPadding": 19, "labelOffset": 6, "padding": 0}
            }
          }
        },
        {
          "data": {"name": "circles"},
          "mark": {"type": "point", "shape": "circle", "size": 330, "filled": false, "stroke": "#000", "strokeWidth": 1.3, "opacity": 1},
          "encoding": {
            "x": {"field": "tt", "type": "quantitative", "scale": {"domain": [0, 66], "nice": false, "zero": false}},
            "y": {"field": "I", "type": "quantitative", "scale": {"domain": [0, 40], "nice": false, "zero": false}, "axis": null}
          }
        },
        {
          "data": {"values": [{}]},
          "mark": {"type": "rule", "color": "#000", "strokeWidth": 2},
          "encoding": {
            "x": {"datum": -1.08, "type": "quantitative", "scale": {"domain": [0, 66], "nice": false, "zero": false}},
            "y": {"datum": 27.2, "type": "quantitative", "scale": {"domain": [0, 40], "nice": false, "zero": false}, "axis": null},
            "y2": {"datum": 10.53}
          }
        },
        {
          "data": {"values": [{}]},
          "mark": {"type": "rule", "color": "#000", "strokeWidth": 2},
          "encoding": {
            "x": {"datum": -2.52, "type": "quantitative", "scale": {"domain": [0, 66], "nice": false, "zero": false}},
            "x2": {"datum": 1.26},
            "y": {"datum": 27.2, "type": "quantitative", "scale": {"domain": [0, 40], "nice": false, "zero": false}, "axis": null}
          }
        },
        {
          "data": {"values": [{}]},
          "mark": {"type": "rule", "color": "#000", "strokeWidth": 2},
          "encoding": {
            "x": {"datum": -2.52, "type": "quantitative", "scale": {"domain": [0, 66], "nice": false, "zero": false}},
            "x2": {"datum": 1.26},
            "y": {"datum": 10.53, "type": "quantitative", "scale": {"domain": [0, 40], "nice": false, "zero": false}, "axis": null}
          }
        },
        {
          "data": {"values": [{}]},
          "mark": {"type": "text", "text": "intensity [a. u.]", "angle": 270, "fontSize": 21, "align": "center", "baseline": "middle", "font": "Liberation Sans", "color": "#000"},
          "encoding": {
            "x": {"datum": -3.35, "type": "quantitative", "scale": {"domain": [0, 66], "nice": false, "zero": false}},
            "y": {"datum": 18.92, "type": "quantitative", "scale": {"domain": [0, 40], "nice": false, "zero": false}, "axis": null}
          }
        },
        {
          "data": {"values": [{}]},
          "mark": {"type": "text", "text": "XRD", "fontSize": 30, "align": "left", "baseline": "alphabetic", "font": "Liberation Sans", "color": "#000"},
          "encoding": {
            "x": {"datum": 0.43, "type": "quantitative", "scale": {"domain": [0, 66], "nice": false, "zero": false}},
            "y": {"datum": 41.13, "type": "quantitative", "scale": {"domain": [0, 40], "nice": false, "zero": false}, "axis": null}
          }
        },
        {
          "data": {"values": [{}]},
          "mark": {"type": "text", "text": "2Θ", "fontSize": 23, "align": "left", "baseline": "middle", "font": "Liberation Serif", "color": "#000"},
          "encoding": {
            "x": {"datum": 24.6, "type": "quantitative", "scale": {"domain": [0, 66], "nice": false, "zero": false}},
            "y": {"datum": -7.5, "type": "quantitative", "scale": {"domain": [0, 40], "nice": false, "zero": false}, "axis": null}
          }
        },
        {
          "data": {"values": [{}]},
          "mark": {"type": "text", "text": "[°]", "fontSize": 22, "align": "left", "baseline": "middle", "font": "Liberation Sans", "color": "#000"},
          "encoding": {
            "x": {"datum": 35.0, "type": "quantitative", "scale": {"domain": [0, 66], "nice": false, "zero": false}},
            "y": {"datum": -7.6, "type": "quantitative", "scale": {"domain": [0, 40], "nice": false, "zero": false}, "axis": null}
          }
        }
      ]
    }
  ]
}
